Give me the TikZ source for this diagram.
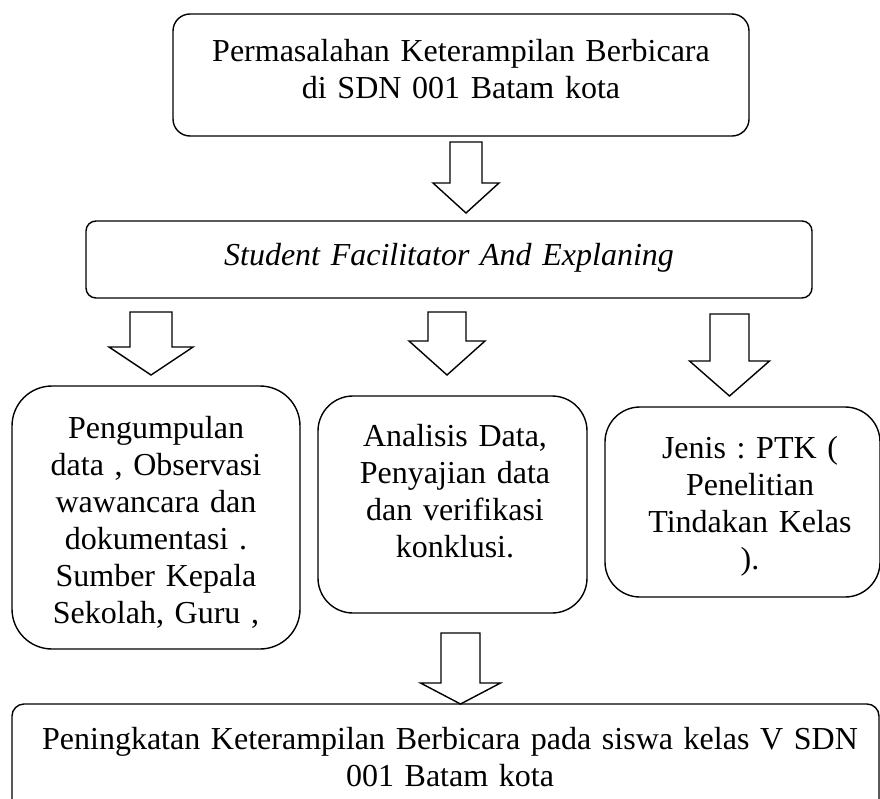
\documentclass[tikz,border=0pt]{standalone}
\usepackage{fontspec}
\setmainfont[WordSpace=0.9]{Liberation Serif}
\newcommand{\blkarrow}[6]{%
  \draw[arrowline] ({#1-#2},#3) -- ({#1+#2},#3) -- ({#1+#2},#4) -- ({#1+#5},#4)
    -- (#1,#6) -- ({#1-#5},#4) -- ({#1-#2},#4) -- cycle;}
\begin{document}
\frenchspacing
\begin{tikzpicture}[x=1pt,y=-1pt,
  box/.style={draw=black, line width=1.4pt, inner sep=0pt, fill=none},
  txt/.style={anchor=base, inner sep=0pt, align=center, text width=#1,
              font=\fontsize{32}{37}\selectfont},
  arrowline/.style={draw=black, line width=1.4pt, line join=miter, fill=white}]
\useasboundingbox (0,0) rectangle (880,798);
\clip (0,0) rectangle (880,798);
% boxes
\node[box, rounded corners=17pt, minimum width=576pt, minimum height=122pt] (b1) at (461,75) {};
\node[box, rounded corners=10pt, minimum width=726pt, minimum height=77pt] (b2) at (449,259.5) {};
\node[box, rounded corners=40pt, minimum width=288pt, minimum height=263pt] (b3) at (156,517.5) {};
\node[box, rounded corners=35pt, minimum width=269pt, minimum height=217pt] (b4) at (452.5,504.5) {};
\node[box, rounded corners=35pt, minimum width=275pt, minimum height=190pt] (b5) at (742.5,502) {};
\node[box, rounded corners=12pt, minimum width=867pt, minimum height=116pt] (b6) at (445.5,762) {};
% texts
\node[txt=560pt] (t1) at (461,61) {Permasalahan Keterampilan Berbicara\\di SDN 001 Batam kota};
\node[txt=700pt] (t2) at (449,265) {\itshape Student Facilitator And Explaning};
\node[txt=280pt] (t3) at (156,438) {Pengumpulan\\data , Observasi\\wawancara dan\\dokumentasi .\\Sumber Kepala\\Sekolah, Guru ,};
\node[txt=260pt] (t4) at (455,446) {Analisis Data,\\Penyajian data\\dan verifikasi\\konklusi.};
\node[txt=260pt] (t5) at (750,458) {Jenis : PTK (\\Penelitian\\Tindakan Kelas\\).};
\node[txt=860pt] (t6) at (450,749) {Peningkatan Keterampilan Berbicara pada siswa kelas V SDN\\001 Batam kota};
% block arrows
\blkarrow{466}{16}{142}{183}{33}{213}
\blkarrow{151}{21}{312}{347}{42}{375}
\blkarrow{447}{19}{312}{341}{38}{375}
\blkarrow{729.5}{19.5}{314}{361}{40}{396}
\blkarrow{460.5}{19.5}{633}{683}{40}{704}
\end{tikzpicture}
\end{document}
